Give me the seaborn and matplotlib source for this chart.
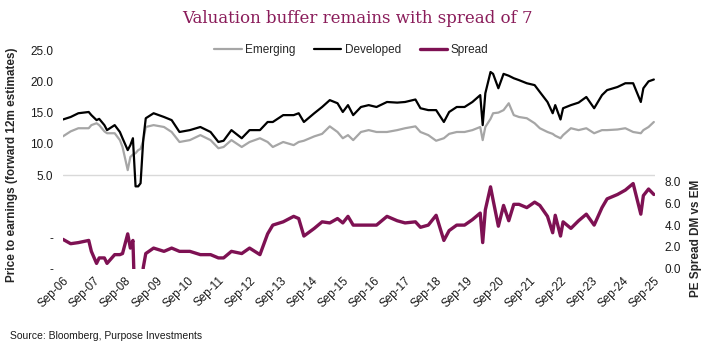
import numpy as np
import pandas as pd
import matplotlib
matplotlib.use("Agg")
import matplotlib.pyplot as plt
import seaborn as sns

# forward P/E
months = [
    "2006-09", "2006-12", "2007-03", "2007-07", "2007-08", "2007-10", "2007-11",
    "2008-01", "2008-02", "2008-05", "2008-07", "2008-08", "2008-10", "2008-11",
    "2008-12", "2009-01", "2009-02", "2009-03", "2009-04", "2009-05", "2009-08",
    "2009-12", "2010-03", "2010-06", "2010-10", "2011-02", "2011-06", "2011-09",
    "2011-11", "2012-02", "2012-06", "2012-09", "2013-01", "2013-04", "2013-06",
    "2013-10", "2014-02", "2014-04", "2014-06", "2014-10", "2015-01", "2015-04",
    "2015-07", "2015-09", "2015-11", "2016-01", "2016-04", "2016-07", "2016-10",
    "2017-02", "2017-06", "2017-09", "2018-01", "2018-03", "2018-06", "2018-09",
    "2018-12", "2019-02", "2019-05", "2019-08", "2019-11", "2020-02", "2020-03",
    "2020-04", "2020-06", "2020-07", "2020-09", "2020-11", "2021-01", "2021-03",
    "2021-05", "2021-08", "2021-11", "2022-01", "2022-04", "2022-06", "2022-07",
    "2022-09", "2022-10", "2023-01", "2023-04", "2023-07", "2023-10", "2024-01",
    "2024-03", "2024-07", "2024-10", "2025-01", "2025-04", "2025-05", "2025-07",
    "2025-09",
]
developed = [
    13.9, 14.3, 14.9, 15.1, 14.6, 13.8, 14.0,
    13.0, 12.2, 13.0, 11.9, 10.9, 9.0, 9.8,
    10.9, 3.2, 3.2, 3.7, 10.6, 14.1, 14.9,
    14.3, 13.8, 11.9, 12.2, 12.7, 11.9, 10.3,
    10.5, 12.2, 10.9, 12.2, 12.2, 13.5, 13.5,
    14.6, 14.6, 14.9, 13.5, 14.9, 15.9, 17.0,
    16.5, 15.1, 16.2, 14.6, 15.9, 16.2, 15.9,
    16.7, 16.6, 16.7, 17.1, 15.7, 15.4, 15.4,
    13.5, 15.1, 15.9, 15.9, 16.7, 17.8, 13.0,
    18.1, 21.5, 21.2, 18.9, 21.2, 20.9, 20.5,
    20.2, 19.7, 19.4, 18.3, 16.7, 14.9, 16.2,
    13.9, 15.7, 16.2, 16.6, 17.5, 15.7, 17.8,
    18.6, 19.1, 19.7, 19.7, 16.7, 18.9, 20.0,
    20.3,
]
emerging = [
    11.2, 12.0, 12.5, 12.5, 13.0, 13.3, 13.0,
    12.0, 11.7, 11.7, 10.6, 9.5, 5.8, 7.9,
    8.3, 8.5, 9.0, 9.2, 10.5, 12.7, 13.0,
    12.7, 11.9, 10.3, 10.6, 11.4, 10.6, 9.3,
    9.5, 10.6, 9.5, 10.3, 10.9, 10.3, 9.5,
    10.3, 9.8, 10.3, 10.5, 11.2, 11.6, 12.8,
    11.9, 10.9, 11.4, 10.6, 11.9, 12.2, 11.9,
    11.9, 12.2, 12.5, 12.8, 11.9, 11.4, 10.5,
    10.9, 11.6, 11.9, 11.9, 12.2, 12.7, 10.6,
    12.7, 14.0, 14.9, 15.0, 15.4, 16.5, 14.6,
    14.3, 14.1, 13.3, 12.5, 11.9, 11.6, 11.3,
    10.9, 11.4, 12.5, 12.2, 12.5, 11.7, 12.2,
    12.2, 12.3, 12.5, 11.9, 11.7, 12.2, 12.7,
    13.5,
]
tick_years = list(range(2006, 2026))
tick_labels = [f"Sep-{y % 100:02d}" for y in tick_years]

df = pd.DataFrame({"date": pd.to_datetime(months), "Developed": developed, "Emerging": emerging})
df["Spread"] = df["Developed"] - df["Emerging"]

sns.set_style("white")
plt.rcParams["font.family"] = ["Liberation Sans", "DejaVu Sans"]

fig = plt.figure(figsize=(7.07, 3.58), dpi=100)
ax = fig.add_axes([0.089, 0.249, 0.8375, 0.611])
ax2 = ax.twinx()

ax.axhline(5, color="#D9D9D9", lw=1, zorder=0)
sns.lineplot(data=df, x="date", y="Emerging", ax=ax, color="#A6A6A6", lw=1.6, label="Emerging")
sns.lineplot(data=df, x="date", y="Developed", ax=ax, color="black", lw=1.6, label="Developed")
sns.lineplot(data=df, x="date", y="Spread", ax=ax2, color="#7E1153", lw=2.4, label="Spread")

ax.set_ylim(-10, 25)
ax.set_yticks([-10, -5, 5, 10, 15, 20, 25])
ax.set_yticklabels(["-", "-", "5.0", "10.0", "15.0", "20.0", "25.0"])
ax2.set_ylim(0, 20)
ax2.set_yticks([0, 2, 4, 6, 8])
ax2.set_yticklabels(["0.0", "2.0", "4.0", "6.0", "8.0"])

ax.set_xlim(pd.Timestamp("2006-09-01"), pd.Timestamp("2025-09-15"))
ax.set_xticks([pd.Timestamp(f"{y}-09-01") for y in tick_years])
ax.set_xticklabels(tick_labels, rotation=45, ha="right", rotation_mode="anchor")

for a in (ax, ax2):
    for s in a.spines.values():
        s.set_visible(False)
    a.set_xlabel("")
    a.set_ylabel("")
    a.tick_params(length=0, labelsize=8.5, colors="#1a1a1a")
    if a.get_legend():
        a.get_legend().remove()
ax.tick_params(axis="y", pad=7)
ax.tick_params(axis="x", pad=4)
ax2.tick_params(axis="y", pad=7)

h1, l1 = ax.get_legend_handles_labels()
h2, l2 = ax2.get_legend_handles_labels()
fig.legend(h1 + h2, l1 + l2, loc="center", bbox_to_anchor=(0.497, 0.86), ncol=3,
           frameon=False, fontsize=8.5, handlelength=2.3, handletextpad=0.3, columnspacing=1.6)

fig.text(0.505, 0.947, "Valuation buffer remains with spread of 7", ha="center", va="center",
         fontsize=12, color="#8A1C5A", family="DejaVu Serif")
fig.text(0.017, 0.54, "Price to earnings (forward 12m estimates)", rotation=90, ha="center",
         va="center", fontsize=8.5, fontweight="bold")
fig.text(0.985, 0.335, "PE Spread DM vs EM", rotation=90, ha="center", va="center",
         fontsize=8.5, fontweight="bold")
fig.text(0.014, 0.061, "Source: Bloomberg, Purpose Investments", ha="left", va="center",
         fontsize=7.5, color="#1a1a1a")

fig.savefig("out.png", dpi=100)
